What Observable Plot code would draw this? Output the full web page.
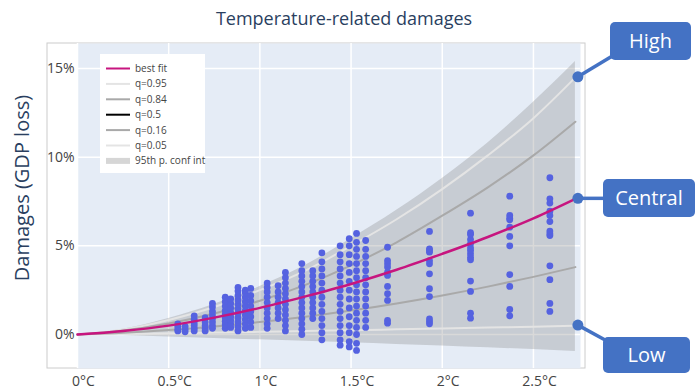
<!DOCTYPE html>
<html>
<head>
<meta charset="utf-8">
<script src="https://cdn.jsdelivr.net/npm/d3@7"></script>
<script src="https://cdn.jsdelivr.net/npm/@observablehq/plot@0.6"></script>
<style>
  body { margin: 0; background: #fff; font-family: "Open Sans", sans-serif; }
  #chart { width: 696px; height: 391px; }
</style>
</head>
<body>
<div id="chart"></div>
<script>
// Warming levels (°C) at which the fitted curves are tabulated
const temps = [0, 0.25, 0.5, 0.75, 1, 1.25, 1.5, 1.75, 2, 2.25, 2.5, 2.73];
// Damages, % of GDP
const confHigh = [0, 0.3, 0.9, 1.7, 2.7, 3.9, 5.4, 7.0, 8.8, 10.8, 13.1, 15.4];
const q95 = [0, 0.28, 0.82, 1.55, 2.5, 3.6, 5.0, 6.5, 8.2, 10.1, 12.2, 14.5];
const q84 = [0, 0.22, 0.62, 1.18, 1.9, 2.8, 3.9, 5.2, 6.7, 8.3, 10.1, 12.0];
const bestFit = [0, 0.2, 0.5, 0.95, 1.5, 2.15, 2.85, 3.65, 4.55, 5.5, 6.55, 7.65];
const q16 = [0, 0.1, 0.25, 0.45, 0.7, 1.0, 1.35, 1.75, 2.2, 2.7, 3.25, 3.8];
const q05 = [0, 0.03, 0.07, 0.11, 0.15, 0.2, 0.24, 0.29, 0.34, 0.39, 0.44, 0.5];
const confLow = [0, -0.06, -0.14, -0.22, -0.3, -0.38, -0.47, -0.56, -0.65, -0.75, -0.85, -0.96];

// Study estimates: warming of each group and the damages reported for it
const studyTemps = [0.55, 0.59, 0.64, 0.70, 0.74, 0.81, 0.84, 0.88, 0.92, 0.95, 1.04, 1.10, 1.14,
  1.23, 1.29, 1.34, 1.44, 1.49, 1.53, 1.58, 1.70, 1.93, 2.155, 2.37, 2.59];
const studyDamages = [
  [0.2, 0.3, 0.45, 0.6],
  [0.15, 0.3, 0.45],
  [0.2, 0.35, 0.5, 0.65, 0.85, 1.05],
  [0.2, 0.35, 0.5, 0.7, 0.95],
  [0.35, 0.5, 0.7, 0.9, 1.1, 1.3, 1.55, 1.75],
  [0.35, 0.55, 0.75, 0.95, 1.15, 1.35, 1.6, 1.85, 2.1],
  [0.4, 0.6, 0.8, 1.0, 1.25, 1.5, 1.75, 2.0],
  [0.2, 0.45, 0.7, 0.95, 1.2, 1.45, 1.7, 1.95, 2.2, 2.45, 2.65],
  [0.35, 0.6, 0.85, 1.1, 1.35, 1.6, 1.85, 2.1, 2.35, 2.5],
  [0.4, 0.7, 1.0, 1.3, 1.6, 1.9, 2.2, 2.6],
  [0.35, 0.6, 0.9, 1.2, 1.5, 1.8, 2.1, 2.4, 2.65, 2.9],
  [0.9, 1.2, 1.5, 1.8, 2.1, 2.4, 2.75],
  [0.2, 0.5, 0.8, 1.1, 1.4, 1.7, 2.0, 2.3, 2.6, 2.9, 3.2, 3.5],
  [0.0, 0.3, 0.6, 0.9, 1.2, 1.5, 1.8, 2.1, 2.4, 2.7, 3.0, 3.3, 3.6, 4.0],
  [0.9, 1.2, 1.5, 1.8, 2.1, 2.4, 2.7, 3.0, 3.3, 3.6],
  [-0.3, 0.1, 0.5, 0.9, 1.3, 1.7, 2.1, 2.5, 2.9, 3.3, 3.7, 4.1, 4.6],
  [-0.6, -0.3, 0.1, 0.5, 0.9, 1.3, 1.7, 2.1, 2.5, 2.9, 3.3, 3.7, 4.1, 4.5, 5.0],
  [-0.7, -0.4, 0.1, 0.5, 1.0, 1.5, 2.0, 2.5, 3.0, 3.5, 4.0, 4.5, 5.0, 5.4],
  [-0.9, -0.5, 0.0, 0.4, 0.8, 1.2, 1.6, 2.0, 2.4, 2.8, 3.2, 3.6, 4.0, 4.4, 4.8, 5.2, 5.7],
  [0.4, 0.8, 1.2, 1.6, 2.0, 2.4, 2.8, 3.2, 3.6, 4.0, 4.4, 4.8, 5.3],
  [0.64, 0.79, 1.92, 2.30, 2.71, 3.33, 3.51, 3.80, 3.99, 4.17, 4.92],
  [0.60, 0.73, 0.88, 2.14, 2.58, 3.42, 3.99, 4.17, 4.64, 4.74, 4.83, 5.81],
  [0.92, 1.20, 2.43, 3.01, 4.21, 4.36, 4.55, 4.74, 4.89, 5.12, 5.36, 5.64, 5.74, 6.84],
  [1.05, 1.41, 2.71, 3.38, 5.00, 5.53, 6.05, 6.47, 6.56, 6.71, 7.80],
  [1.30, 1.75, 3.09, 3.87, 5.58, 5.68, 5.83, 6.37, 6.71, 6.95, 7.41, 7.65, 8.84]
];

const xTicks = [0, 0.5, 1, 1.5, 2, 2.5];
const yTicks = [0, 5, 10, 15];

const legendLabels = ["best fit", "q=0.95", "q=0.84", "q=0.5", "q=0.16", "q=0.05", "95th p. conf int"];
const legendColors = ["#c7157f", "#e4e4e4", "#a9a9a9", "#000000", "#a9a9a9", "#e4e4e4", "#d6d6d6"];

const calloutLabels = ["High", "Central", "Low"];

const curves = temps.map((t, i) => ({
  t, hi: confHigh[i], lo: confLow[i], q95: q95[i], q84: q84[i],
  best: bestFit[i], q16: q16[i], q05: q05[i]
}));
const studies = studyTemps.flatMap((t, i) => studyDamages[i].map(d => ({t, d})));

const lineOpts = {x: "t", curve: "monotone-x"};

const chart = Plot.plot({
  width: 696,
  height: 391,
  marginLeft: 77,
  marginRight: 116,
  marginTop: 43,
  marginBottom: 23,
  style: {fontFamily: "'Open Sans', sans-serif", background: "transparent", overflow: "visible"},
  x: {domain: [0, 2.758]},
  y: {domain: [-1.918, 16.41]},
  marks: [
    Plot.frame({fill: "#e5ecf6", stroke: null}),
    Plot.gridX(xTicks, {stroke: "#fff", strokeOpacity: 1, strokeWidth: 1.5}),
    Plot.gridY(yTicks, {stroke: "#fff", strokeOpacity: 1, strokeWidth: 1.5}),
    Plot.areaY(curves, {x: "t", y1: "lo", y2: "hi", fill: "rgb(128,128,128)", fillOpacity: 0.3, curve: "monotone-x"}),
    Plot.line(curves, {...lineOpts, y: "q05", stroke: legendColors[5], strokeWidth: 2}),
    Plot.line(curves, {...lineOpts, y: "q95", stroke: legendColors[1], strokeWidth: 2}),
    Plot.line(curves, {...lineOpts, y: "q16", stroke: legendColors[4], strokeWidth: 2}),
    Plot.line(curves, {...lineOpts, y: "q84", stroke: legendColors[2], strokeWidth: 2}),
    Plot.dot(studies, {x: "t", y: "d", r: 3.4, fill: "#5562e0", stroke: null}),
    Plot.line(curves, {...lineOpts, y: "best", stroke: legendColors[0], strokeWidth: 2.5}),
    Plot.axisX(xTicks, {tickSize: 0, tickPadding: 8, fontSize: 14, fill: "#444", dx: 6,
      tickFormat: d => `${d}°C`, label: null}),
    Plot.axisY(yTicks, {tickSize: 0, tickPadding: 3, fontSize: 14, fill: "#444",
      tickFormat: d => `${d}%`, label: null})
  ]
});

document.getElementById("chart").appendChild(chart);

const svg = d3.select(chart);
const xs = chart.scale("x"), ys = chart.scale("y");
const x = v => xs.apply(v), y = v => ys.apply(v);

// White panel with a thin grey border behind the plotting area and y tick labels
svg.insert("rect", ":first-child")
  .attr("x", 47).attr("y", 43).attr("width", 538).attr("height", 325)
  .attr("fill", "#fff").attr("stroke", "#cccccc").attr("stroke-width", 1);

// Title and y-axis title
svg.append("text").attr("x", 344).attr("y", 25).attr("text-anchor", "middle")
  .attr("font-size", 18).attr("fill", "#2a3f5f").text("Temperature-related damages");
svg.append("text").attr("transform", "translate(28.5,188) rotate(-90)").attr("text-anchor", "middle")
  .attr("font-size", 20).attr("fill", "#2a3f5f").text("Damages (GDP loss)");

// Legend
const lg = svg.append("g").attr("text-anchor", "start");
lg.append("rect").attr("x", 100).attr("y", 54).attr("width", 105).attr("height", 119).attr("fill", "#fff");
legendLabels.forEach((lab, i) => {
  const yy = 68.5 + i * 15.4;
  const isBand = i === legendLabels.length - 1;
  lg.append("line").attr("x1", 106).attr("x2", 130).attr("y1", yy).attr("y2", yy)
    .attr("stroke", legendColors[i]).attr("stroke-width", isBand ? 6 : 2);
  lg.append("text").attr("x", 135).attr("y", yy).attr("dy", "0.35em").attr("text-anchor", "start")
    .attr("font-size", 10).attr("fill", "#444").text(lab);
});

// Callouts tied to the ends of the upper, central and lower curves
const last = curves[curves.length - 1];
const anchors = [[last.t, last.q95], [last.t, last.best], [last.t, last.q05]];
const boxes = [
  {x: 610, y: 22, w: 81, h: 38, lx: 614, ly: 55},
  {x: 603, y: 179, w: 92, h: 38, lx: 604, ly: null},
  {x: 603, y: 337, w: 87, h: 36, lx: 607, ly: 341}
];
const blue = "#4472c4";
calloutLabels.forEach((lab, i) => {
  const ax = x(anchors[i][0]) + 3, ay = y(anchors[i][1]);
  const b = boxes[i];
  svg.append("line").attr("x1", ax).attr("y1", ay).attr("x2", b.lx).attr("y2", b.ly == null ? ay : b.ly)
    .attr("stroke", blue).attr("stroke-width", 3.5);
  svg.append("circle").attr("cx", ax).attr("cy", ay).attr("r", 5.5).attr("fill", blue);
  svg.append("rect").attr("x", b.x).attr("y", b.y).attr("width", b.w).attr("height", b.h)
    .attr("rx", 5).attr("fill", blue);
  svg.append("text").attr("x", b.x + b.w / 2).attr("y", b.y + b.h / 2).attr("dy", "0.35em")
    .attr("text-anchor", "middle").attr("font-size", 20).attr("fill", "#fff").text(lab);
});
</script>
</body>
</html>
